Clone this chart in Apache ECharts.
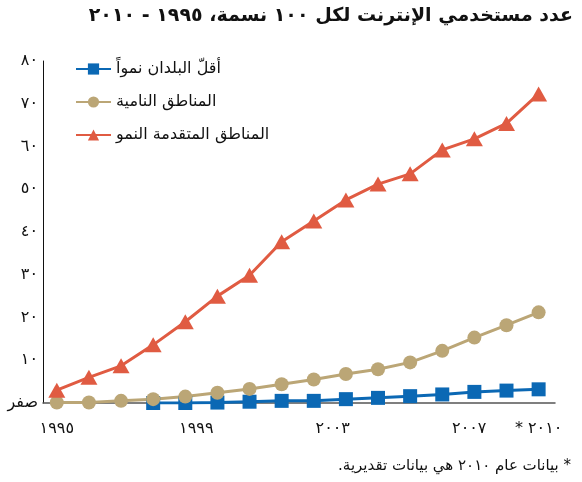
<!DOCTYPE html>
<html>
<head>
<meta charset="utf-8">
<script src="https://cdn.jsdelivr.net/npm/echarts@6/dist/echarts.min.js"></script>
<style>
  html, body { margin: 0; padding: 0; background: #fff; }
  #chart { width: 582px; height: 482px; direction: rtl; }
</style>
</head>
<body>
<div id="chart"></div>
<script>
// Internet users per 100 inhabitants, 1995-2010
const years = [1995, 1996, 1997, 1998, 1999, 2000, 2001, 2002, 2003, 2004, 2005, 2006, 2007, 2008, 2009, 2010];
const leastDeveloped = [null, null, null, 0, 0, 0.1, 0.3, 0.5, 0.5, 0.9, 1.2, 1.6, 2.0, 2.6, 2.9, 3.2];
const developing = [0.1, 0.1, 0.5, 0.9, 1.5, 2.4, 3.3, 4.4, 5.5, 6.8, 7.9, 9.5, 12.2, 15.3, 18.2, 21.2];
const developed = [3.0, 6.0, 8.7, 13.6, 19.0, 25.0, 29.9, 37.7, 42.6, 47.5, 51.2, 53.6, 59.2, 61.8, 65.4, 72.3];

const seriesNames = ['أقلّ البلدان نمواً', 'المناطق النامية', 'المناطق المتقدمة النمو'];
const xTickYears = [1995, 1999, 2003, 2007, 2010];
const xTickLabels = ['١٩٩٥', '١٩٩٩', '٢٠٠٣', '٢٠٠٧', '٢٠١٠ *'];
const yTickLabels = ['صفر', '١٠', '٢٠', '٣٠', '٤٠', '٥٠', '٦٠', '٧٠', '٨٠'];

const titleText = 'عدد مستخدمي الإنترنت لكل ١٠٠ نسمة، ١٩٩٥ - ٢٠١٠';
const noteText = '* بيانات عام ٢٠١٠ هي بيانات تقديرية.';

const FONT = '"DejaVu Sans", sans-serif';

function pairs(values) {
  return years.map((y, i) => [y, values[i]]).filter(p => p[1] !== null);
}

// horizontal nudges for the year labels under the axis
const labelStyle = { y1995: 0, y1999: 22, y2003: 38, y2007: 54, y2010: 0 };
const rich = {};
Object.keys(labelStyle).forEach(k => {
  rich[k] = { fontFamily: FONT, fontSize: 16, color: '#111', padding: [0, 0, 0, labelStyle[k]] };
});

const chart = echarts.init(document.getElementById('chart'), null, { renderer: 'canvas' });
chart.setOption({
  animation: false,
  backgroundColor: '#ffffff',
  title: [
    {
      text: titleText,
      right: 4,
      top: 2,
      textStyle: { fontFamily: FONT, fontWeight: 'bold', fontSize: 19, color: '#111' }
    },
    {
      text: noteText,
      right: 6,
      top: 454,
      textStyle: { fontFamily: FONT, fontWeight: 'normal', fontSize: 15, color: '#111' }
    }
  ],
  legend: {
    orient: 'vertical',
    left: 70,
    top: 56,
    itemWidth: 35,
    itemHeight: 14,
    itemGap: 17,
    data: seriesNames,
    textStyle: { fontFamily: FONT, fontSize: 16, color: '#111' }
  },
  grid: { left: 43, right: 27, top: 61, bottom: 79, containLabel: false },
  xAxis: {
    type: 'value',
    min: 1994.57,
    max: 2010.51,
    splitLine: { show: false },
    axisTick: { show: false },
    axisLine: { show: true, onZero: false, lineStyle: { color: '#555', width: 1.5 } },
    axisLabel: {
      customValues: xTickYears,
      margin: 18,
      formatter: v => {
        const i = xTickYears.indexOf(Math.round(v));
        return i < 0 ? '' : '{y' + xTickYears[i] + '|' + xTickLabels[i] + '}';
      },
      rich: rich
    }
  },
  yAxis: {
    type: 'value',
    min: 0,
    max: 80,
    interval: 10,
    splitLine: { show: false },
    axisTick: { show: false },
    axisLine: { show: true, lineStyle: { color: '#111', width: 1 } },
    axisLabel: {
      margin: 5,
      fontFamily: FONT,
      fontSize: 16,
      color: '#111',
      formatter: v => yTickLabels[Math.round(v / 10)]
    }
  },
  series: [
    {
      name: seriesNames[0],
      type: 'line',
      data: pairs(leastDeveloped),
      symbol: 'rect',
      symbolSize: 14,
      lineStyle: { color: '#0B68B4', width: 3 },
      itemStyle: { color: '#0B68B4' }
    },
    {
      name: seriesNames[1],
      type: 'line',
      data: pairs(developing),
      symbol: 'circle',
      symbolSize: 14,
      lineStyle: { color: '#BBA676', width: 3 },
      itemStyle: { color: '#BBA676' }
    },
    {
      name: seriesNames[2],
      type: 'line',
      data: pairs(developed),
      symbol: 'triangle',
      symbolSize: [17, 15],
      lineStyle: { color: '#E05B42', width: 3 },
      itemStyle: { color: '#E05B42' }
    }
  ]
});
</script>
</body>
</html>
